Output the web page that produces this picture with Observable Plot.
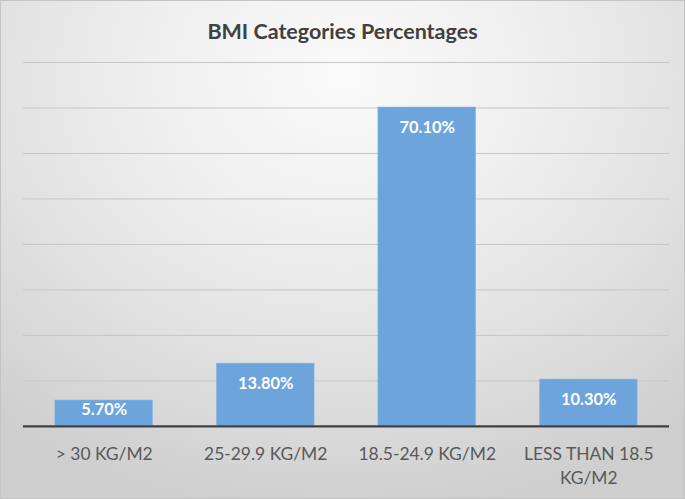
<!DOCTYPE html>
<html>
<head>
<meta charset="utf-8">
<script src="https://cdn.jsdelivr.net/npm/d3@7"></script>
<script src="https://cdn.jsdelivr.net/npm/@observablehq/plot@0.6"></script>
<style>
  html, body { margin: 0; padding: 0; }
  #wrap {
    position: relative;
    width: 683px; height: 497px;
    border: 1px solid #c4c4c4;
    background: radial-gradient(ellipse 80% 90% at 50% 15%, #fafafa 0%, #ededed 40%, #dadada 78%, #cecece 100%);
    font-family: Lato, "Open Sans", sans-serif;
    overflow: hidden;
  }
  #title {
    height: 54px; line-height: 60px;
    text-align: center; font-weight: bold; font-size: 21.5px; color: #404040;
  }
  #chart svg { display: block; background: transparent; }
</style>
</head>
<body>
<div id="wrap">
  <div id="title">BMI Categories Percentages</div>
  <div id="chart"></div>
</div>
<script>
const categories = ["> 30 KG/M2", "25-29.9 KG/M2", "18.5-24.9 KG/M2", "LESS THAN 18.5 KG/M2"];
const tickLabels = ["> 30 KG/M2", "25-29.9 KG/M2", "18.5-24.9 KG/M2", "LESS THAN 18.5\nKG/M2"];
const values = [5.7, 13.8, 70.1, 10.3];
const gridTicks = [10, 20, 30, 40, 50, 60, 70, 80];

const data = categories.map((c, i) => ({category: c, value: values[i], label: values[i].toFixed(2) + "%"}));
const labelOf = new Map(categories.map((c, i) => [c, tickLabels[i]]));

const chart = Plot.plot({
  width: 685,
  height: 444,
  marginTop: 7,
  marginBottom: 72,
  marginLeft: 22,
  marginRight: 15,
  style: {background: "transparent", fontFamily: "Lato, 'Open Sans', sans-serif"},
  x: {domain: categories, paddingInner: 0.395, paddingOuter: 0.1975, label: null},
  y: {domain: [0, 80], label: null, axis: null},
  marks: [
    Plot.ruleY(gridTicks, {stroke: "#c6c6c6", strokeWidth: 1}),
    Plot.barY(data, {x: "category", y: "value", fill: "#6ca4db", stroke: "#8fbae4", strokeWidth: 0.6}),
    Plot.ruleY([0], {stroke: "#404040", strokeWidth: 2.2}),
    Plot.text(data, {
      x: "category",
      y: d => Math.max(d.value - 4.4, 3.7),
      text: "label",
      fill: "white",
      fontWeight: "bold",
      fontSize: 16.5
    }),
    Plot.axisX({
      tickSize: 0,
      tickPadding: 16,
      fontSize: 17.5,
      color: "#595959",
      lineHeight: 1.4,
      tickFormat: d => labelOf.get(d)
    })
  ]
});
document.getElementById("chart").appendChild(chart);
</script>
</body>
</html>
